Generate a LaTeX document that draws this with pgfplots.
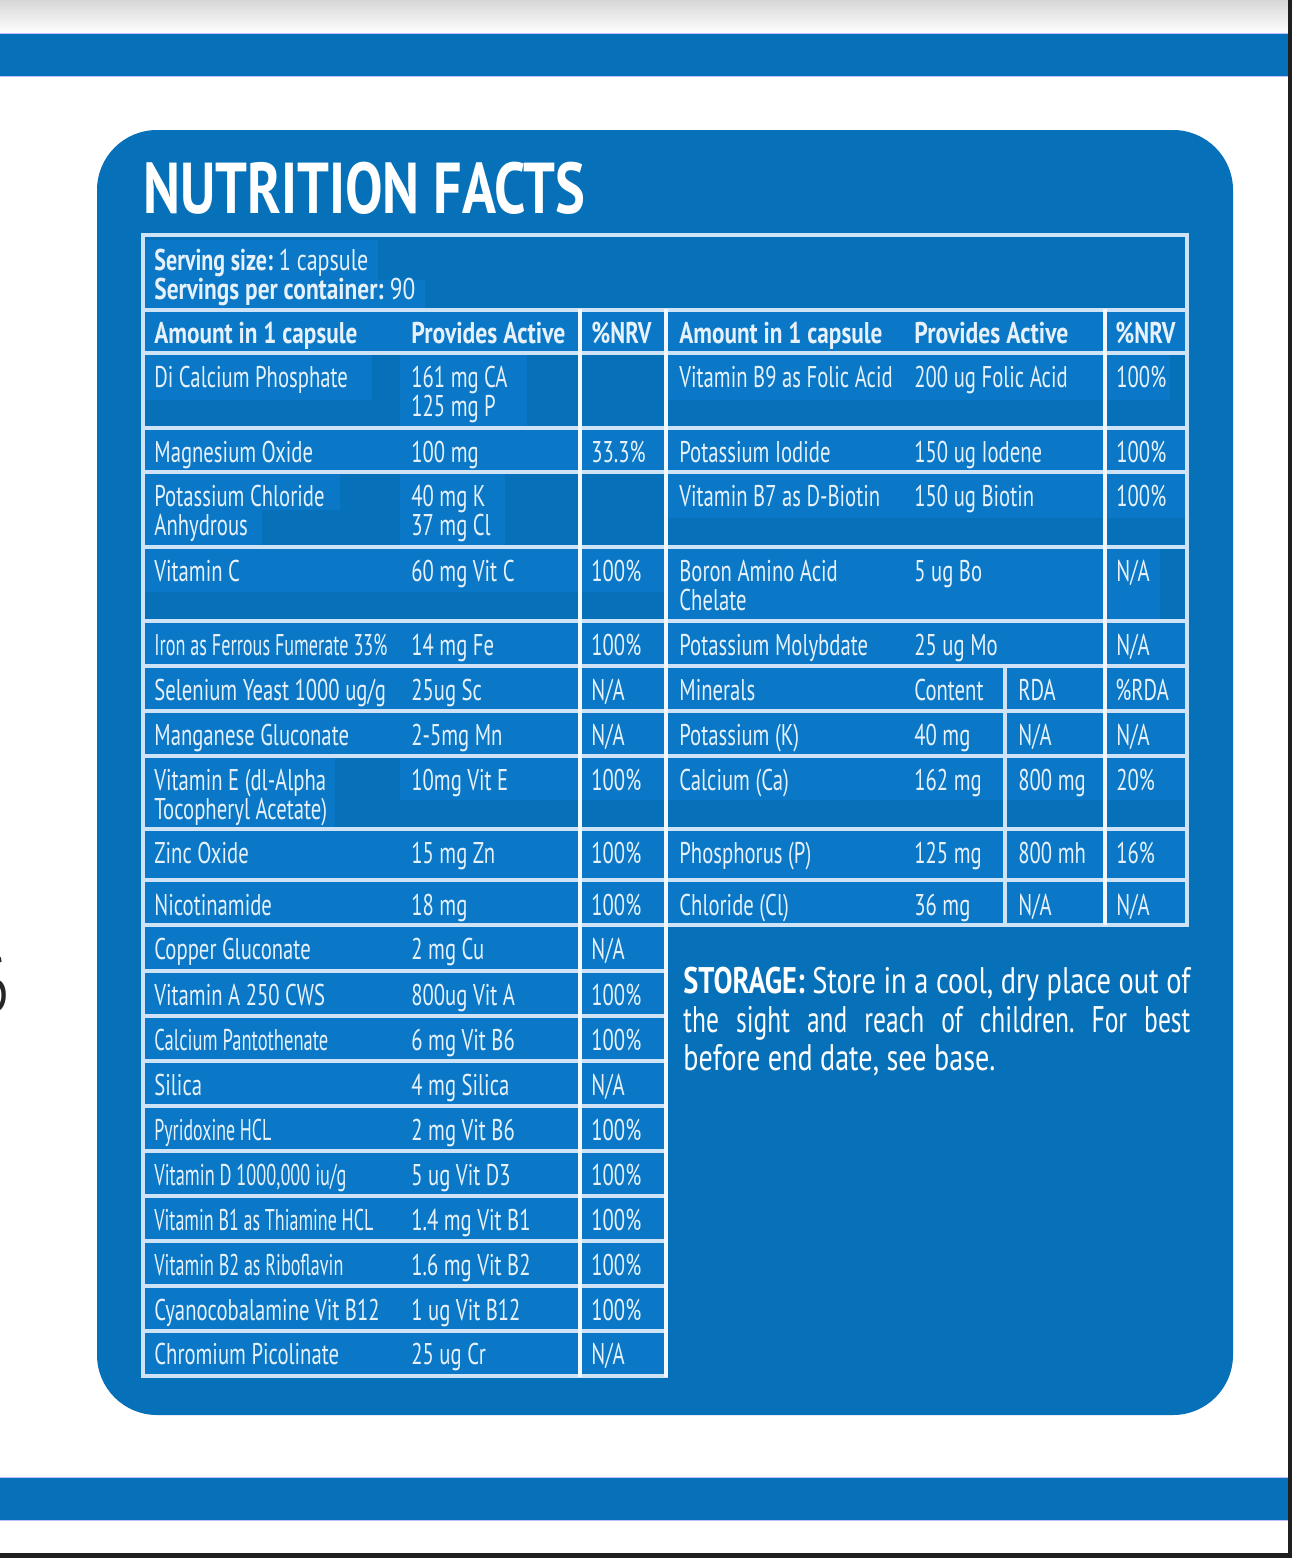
\documentclass[border=0pt]{standalone}
\usepackage{pgfplots}
\pgfplotsset{compat=1.18}
\usepackage{graphicx}
\usepackage{fontspec}
\setmainfont{PT Sans}[FakeStretch=0.69]
\frenchspacing
\newlength{\px}\setlength{\px}{0.5pt}
\definecolor{boxblue}{HTML}{0670B8}
\definecolor{cellblue}{HTML}{0A78C6}
\definecolor{gridc}{HTML}{CFE3F6}
\definecolor{gridw}{HTML}{F2F8FD}
\definecolor{txt}{HTML}{E6F1FB}
\newcommand{\body}{\fontsize{15}{16}\selectfont}
\newcommand{\fitw}[2]{\resizebox{#1\px}{\height}{#2}}
\tikzset{tx/.style={anchor=base west,inner sep=0pt,text=txt,font=\body}}
\newcommand{\R}[3]{\node[tx] at (#2,{#1+34}) {#3};}
\newcommand{\RR}[3]{\node[tx] at (#2,{#1+63}) {#3};}
\newcommand{\patch}[4]{\fill[cellblue] (#1,#2) rectangle (#3,#4);}
\newcommand{\hl}[3]{\draw[gridc,line width=1.75pt] (#1,#3) -- (#2,#3);}
\newcommand{\vl}[4][gridc]{\draw[#1,line width=1.75pt] (#2,#3) -- (#2,#4);}
\begin{document}
\frenchspacing
\begin{tikzpicture}
\begin{axis}[width=646pt,height=779pt,scale only axis,hide axis,clip=false,
  xmin=0,xmax=1292,ymin=0,ymax=1558,y dir=reverse]
% page decorations
\shade[top color=black!16,bottom color=white] (0,0) rectangle (1292,33);
\fill[boxblue] (0,33) rectangle (1292,77);
\draw[blue!25,line width=0.5pt] (0,33.5) -- (1292,33.5) (0,76.5) -- (1292,76.5);
\fill[boxblue] (0,1477) rectangle (1292,1521);
\draw[blue!25,line width=0.5pt] (0,1477.5) -- (1292,1477.5) (0,1520.5) -- (1292,1520.5);
\fill[black!88] (1288,0) rectangle (1292,1558);
\fill[black!88] (0,1553) rectangle (1292,1558);
\node[anchor=base east,inner sep=0pt,font=\fontsize{38}{38}\selectfont,text=black!85] at (9,1011) {6};
% box
\fill[boxblue,rounded corners=30pt] (97,130) rectangle (1233,1415);
% title
\node[anchor=base west,inner sep=0pt,text=white,font=\fontsize{36}{36}\selectfont\bfseries] at (143,213) {\fitw{442}{NUTRITION FACTS}};
% lighter patches
\patch{143}{240}{378}{280}
\patch{143}{280}{425}{309}
\patch{143}{311}{1187}{353}
\patch{143}{353}{372}{400}
\patch{400}{353}{527}{428}
\patch{666}{353}{1105}{400}
\patch{1105}{353}{1170}{400}
\patch{143}{428}{1187}{472}
\patch{143}{472}{340}{510}
\patch{143}{510}{262}{547}
\patch{400}{472}{505}{547}
\patch{666}{472}{1105}{518}
\patch{1105}{472}{1187}{518}
\patch{143}{547}{666}{592}
\patch{666}{547}{1105}{621}
\patch{1105}{547}{1160}{621}
\patch{143}{621}{1187}{756}
\patch{143}{756}{335}{829}
\patch{400}{756}{666}{800}
\patch{666}{756}{1187}{800}
\patch{143}{829}{1187}{925}
\patch{143}{925}{666}{1376}
% grid
\hl{141}{1189}{235}
\hl{141}{1189}{310}
\hl{141}{1189}{353}
\hl{141}{1189}{428}
\hl{141}{1189}{472}
\hl{141}{1189}{547}
\hl{141}{1189}{621}
\hl{141}{1189}{666}
\hl{141}{1189}{711}
\hl{141}{1189}{756}
\hl{141}{1189}{829}
\hl{141}{1189}{880}
\hl{141}{1189}{925}
\hl{141}{668}{971}
\hl{141}{668}{1016}
\hl{141}{668}{1061}
\hl{141}{668}{1106}
\hl{141}{668}{1151}
\hl{141}{668}{1196}
\hl{141}{668}{1241}
\hl{141}{668}{1286}
\hl{141}{668}{1331}
\hl{141}{668}{1376}
\vl{143}{234}{1377}
\vl[gridw]{580}{309}{1377}
\vl[gridw]{666}{309}{1377}
\vl{1005}{666}{925}
\vl[gridw]{1105}{309}{925}
\vl{1187}{234}{926}
% serving
\node[tx] at (154,270) {\fitw{214}{\textbf{Serving size:} 1 capsule}};
\node[tx] at (154,299) {\fitw{261}{\textbf{Servings per container:} 90}};
% headers
\node[tx,font=\body\bfseries] at (154,343) {\fitw{203}{Amount in 1 capsule}};
\node[tx,font=\body\bfseries] at (411,343) {\fitw{154}{Provides Active}};
\node[tx,font=\body\bfseries] at (591,343) {\fitw{60}{\%NRV}};
\node[tx,font=\body\bfseries] at (679,343) {\fitw{203}{Amount in 1 capsule}};
\node[tx,font=\body\bfseries] at (914,343) {\fitw{154}{Provides Active}};
\node[tx,font=\body\bfseries] at (1115,343) {\fitw{60}{\%NRV}};
% left table
\R{353}{154}{Di Calcium Phosphate} \R{353}{411}{161 mg CA} \RR{353}{411}{125 mg P}
\R{428}{154}{Magnesium Oxide} \R{428}{411}{100 mg} \R{428}{591}{33.3\%}
\R{472}{154}{Potassium Chloride} \RR{472}{154}{Anhydrous} \R{472}{411}{40 mg K} \RR{472}{411}{37 mg Cl}
\R{547}{154}{Vitamin C} \R{547}{411}{60 mg Vit C} \R{547}{591}{100\%}
\R{621}{154}{\fitw{233}{Iron as Ferrous Fumerate 33\%}} \R{621}{411}{14 mg Fe} \R{621}{591}{100\%}
\R{666}{154}{Selenium Yeast 1000 ug/g} \R{666}{411}{25ug Sc} \R{666}{591}{N/A}
\R{711}{154}{Manganese Gluconate} \R{711}{411}{2-5mg Mn} \R{711}{591}{N/A}
\R{756}{154}{Vitamin E (dl-Alpha} \RR{756}{154}{Tocopheryl Acetate)} \R{756}{411}{10mg Vit E} \R{756}{591}{100\%}
\R{829}{154}{Zinc Oxide} \R{829}{411}{15 mg Zn} \R{829}{591}{100\%}
\R{881}{154}{Nicotinamide} \R{881}{411}{18 mg} \R{881}{591}{100\%}
\R{925}{154}{Copper Gluconate} \R{925}{411}{2 mg Cu} \R{925}{591}{N/A}
\R{971}{154}{Vitamin A 250 CWS} \R{971}{411}{800ug Vit A} \R{971}{591}{100\%}
\R{1016}{154}{\fitw{174}{Calcium Pantothenate}} \R{1016}{411}{6 mg Vit B6} \R{1016}{591}{100\%}
\R{1061}{154}{Silica} \R{1061}{411}{4 mg Silica} \R{1061}{591}{N/A}
\R{1106}{154}{\fitw{117}{Pyridoxine HCL}} \R{1106}{411}{2 mg Vit B6} \R{1106}{591}{100\%}
\R{1151}{154}{\fitw{192}{Vitamin D 1000,000 iu/g}} \R{1151}{411}{5 ug Vit D3} \R{1151}{591}{100\%}
\R{1196}{154}{\fitw{219}{Vitamin B1 as Thiamine HCL}} \R{1196}{411}{1.4 mg Vit B1} \R{1196}{591}{100\%}
\R{1241}{154}{\fitw{189}{Vitamin B2 as Riboflavin}} \R{1241}{411}{1.6 mg Vit B2} \R{1241}{591}{100\%}
\R{1286}{154}{Cyanocobalamine Vit B12} \R{1286}{411}{1 ug Vit B12} \R{1286}{591}{100\%}
\R{1330}{154}{Chromium Picolinate} \R{1330}{411}{25 ug Cr} \R{1330}{591}{N/A}
% right table
\R{353}{679}{Vitamin B9 as Folic Acid} \R{353}{914}{200 ug Folic Acid} \R{353}{1116}{100\%}
\R{428}{679}{Potassium Iodide} \R{428}{914}{150 ug Iodene} \R{428}{1116}{100\%}
\R{472}{679}{Vitamin B7 as D-Biotin} \R{472}{914}{150 ug Biotin} \R{472}{1116}{100\%}
\R{547}{679}{Boron Amino Acid} \RR{547}{679}{Chelate} \R{547}{914}{5 ug Bo} \R{547}{1116}{N/A}
\R{621}{679}{Potassium Molybdate} \R{621}{914}{25 ug Mo} \R{621}{1116}{N/A}
\R{666}{679}{Minerals} \R{666}{914}{Content} \R{666}{1018}{RDA} \R{666}{1115}{\%RDA}
\R{711}{679}{Potassium (K)} \R{711}{914}{40 mg} \R{711}{1018}{N/A} \R{711}{1116}{N/A}
\R{756}{679}{Calcium (Ca)} \R{756}{914}{162 mg} \R{756}{1018}{800 mg} \R{756}{1116}{20\%}
\R{829}{679}{Phosphorus (P)} \R{829}{914}{125 mg} \R{829}{1018}{800 mh} \R{829}{1116}{16\%}
\R{881}{679}{Chloride (Cl)} \R{881}{914}{36 mg} \R{881}{1018}{N/A} \R{881}{1116}{N/A}
% storage
\node[anchor=base west,inner sep=0pt,text=white,font=\fontsize{18.5}{22}\selectfont] at (683,993) {\fitw{507}{\textbf{STORAGE:} Store in a cool, dry place out of}};
\node[anchor=base west,inner sep=0pt,text=white,font=\fontsize{18.5}{22}\selectfont] at (683,1032) {\makebox[507\px][s]{the sight and reach of children. For best}};
\node[anchor=base west,inner sep=0pt,text=white,font=\fontsize{18.5}{22}\selectfont] at (683,1070) {\fitw{312}{before end date, see base.}};
\end{axis}
\pgfresetboundingbox
\path[use as bounding box] (0,0) rectangle (646pt,779pt);
\end{tikzpicture}
\end{document}
